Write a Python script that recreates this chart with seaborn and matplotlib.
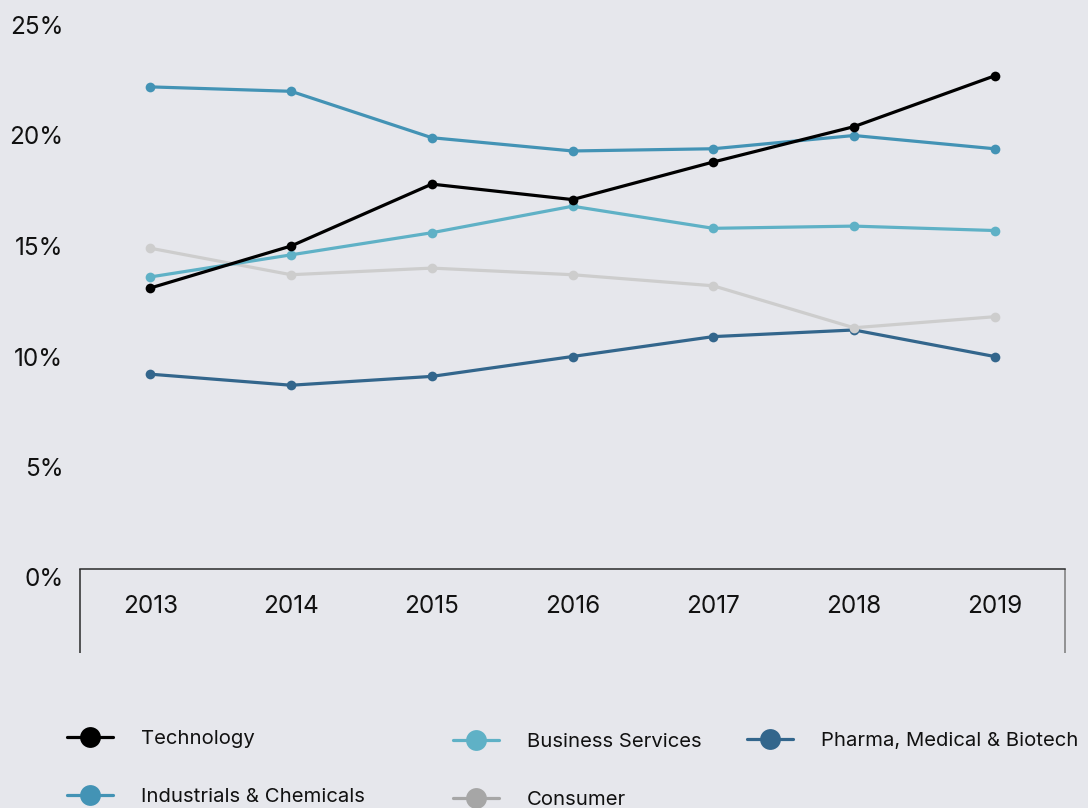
import matplotlib
matplotlib.use("Agg")
import matplotlib.pyplot as plt
from matplotlib.lines import Line2D
from matplotlib.ticker import FuncFormatter
import pandas as pd
import seaborn as sns

# Share of deals by sector, 2013-2019 (%)
years = ["2013", "2014", "2015", "2016", "2017", "2018", "2019"]
technology = [13.1, 15.0, 17.8, 17.1, 18.8, 20.4, 22.7]
industrials = [22.2, 22.0, 19.9, 19.3, 19.4, 20.0, 19.4]
business_services = [13.6, 14.6, 15.6, 16.8, 15.8, 15.9, 15.7]
consumer = [14.9, 13.7, 14.0, 13.7, 13.2, 11.3, 11.8]
pharma = [9.2, 8.7, 9.1, 10.0, 10.9, 11.2, 10.0]

sectors = {
    "Technology": technology,
    "Industrials & Chemicals": industrials,
    "Business Services": business_services,
    "Consumer": consumer,
    "Pharma, Medical & Biotech": pharma,
}
line_colors = {
    "Technology": "#000000",
    "Industrials & Chemicals": "#4393b5",
    "Business Services": "#5fb1c6",
    "Consumer": "#cdcdcd",
    "Pharma, Medical & Biotech": "#33668c",
}
legend_colors = dict(line_colors, Consumer="#a6a6a6")

rows = []
for name, vals in sectors.items():
    for i, (y, v) in enumerate(zip(years, vals)):
        rows.append({"idx": i, "year": y, "sector": name, "share": v})
df = pd.DataFrame(rows)

BG = "#e6e7ec"
sns.set_theme(style="white", rc={"axes.facecolor": BG, "figure.facecolor": BG})
plt.rcParams["font.family"] = ["Inter", "DejaVu Sans"]

fig = plt.figure(figsize=(10.88, 8.08), dpi=100)
W, H = 1088, 808
ax = fig.add_axes([80 / W, 1 - 577.5 / H, 985 / W, 552.5 / H])

# Later series are drawn on top
draw_order = ["Pharma, Medical & Biotech", "Consumer", "Business Services",
              "Industrials & Chemicals", "Technology"]
sns.lineplot(data=df, x="idx", y="share", hue="sector", hue_order=draw_order,
             palette=line_colors, marker="o", markersize=7, markeredgewidth=0,
             linewidth=2.3, legend=False, ax=ax)

ax.set_xlim(-0.5, 6.5)
ax.set_ylim(0, 25)
ax.set_xticks(range(len(years)))
ax.set_xticklabels(years)
ax.set_yticks([0, 5, 10, 15, 20, 25])
ax.yaxis.set_major_formatter(FuncFormatter(lambda v, _: f"{v:.0f}%"))
ax.set_xlabel("")
ax.set_ylabel("")

for s in ("top", "right", "left"):
    ax.spines[s].set_visible(False)
ax.spines["bottom"].set_color("#2a2a2a")
ax.spines["bottom"].set_linewidth(1.1)
ax.spines["bottom"].set_position(("outward", -6.1))

ax.tick_params(axis="x", length=0, pad=19, labelsize=17.5, colors="#111111")
ax.tick_params(axis="y", length=0, pad=12, labelsize=17.5, colors="#111111")

# Box sides hanging below the year axis
y_top = 8.5 / 552.5
y_bot = -75.5 / 552.5
ax.plot([0, 0], [y_top, y_bot], transform=ax.transAxes, color="#2a2a2a",
        lw=1.1, clip_on=False, solid_capstyle="butt")
ax.plot([1, 1], [y_top, y_bot], transform=ax.transAxes, color="#7a7a7a",
        lw=1.1, clip_on=False, solid_capstyle="butt")


def handle(name):
    return Line2D([], [], color=legend_colors[name], lw=2.3, marker="o",
                  markersize=15, markeredgewidth=0)


columns = [
    (["Technology", "Industrials & Chemicals"], 67, 730),
    (["Business Services", "Consumer"], 453, 733),
    (["Pharma, Medical & Biotech"], 747, 732),
]
for names, px, py in columns:
    leg = fig.legend([handle(n) for n in names], names, loc="upper left",
                     bbox_to_anchor=(px / W, 1 - py / H), frameon=False,
                     fontsize=14.6, handlelength=2.26, handletextpad=1.38,
                     labelspacing=1.95, borderpad=0, borderaxespad=0)
    for t in leg.get_texts():
        t.set_color("#111111")

fig.savefig("out.png", dpi=100, facecolor=BG)
